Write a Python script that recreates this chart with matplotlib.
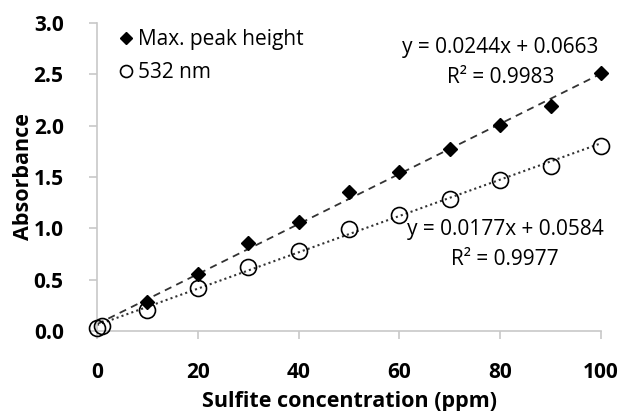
import numpy as np
import matplotlib.pyplot as plt

conc = [0, 1, 10, 20, 30, 40, 50, 60, 70, 80, 90, 100]
abs_532 = [0.03, 0.05, 0.20, 0.42, 0.62, 0.78, 0.99, 1.13, 1.29, 1.47, 1.61, 1.80]
# diamonds at 0 and 1 ppm are not visible in the original
conc_peak = [10, 20, 30, 40, 50, 60, 70, 80, 90, 100]
peak_height = [0.28, 0.56, 0.86, 1.06, 1.35, 1.55, 1.77, 2.01, 2.19, 2.51]

fit_peak = (0.0244, 0.0663, 0.9983)
fit_532 = (0.0177, 0.0584, 0.9977)

plt.rcParams['font.family'] = ['Open Sans', 'DejaVu Sans']

fig = plt.figure(figsize=(6.21, 4.11), dpi=100)
ax = fig.add_axes([97/621, 80/411, 504/621, 308/411])

xs = np.array([0, 100])
ax.plot(xs, fit_peak[0]*xs + fit_peak[1], color='#333333', ls=(0, (4, 3)), lw=1.3, zorder=2)
ax.plot(xs, fit_532[0]*xs + fit_532[1], color='#333333', ls=(0, (1, 1.5)), lw=1.5, zorder=2)

ax.plot(conc_peak, peak_height, ls='none', marker='D', ms=7.5, color='black',
        label='Max. peak height', zorder=3, clip_on=False)
ax.plot(conc, abs_532, ls='none', marker='o', ms=11.5, mfc='none', mec='black',
        mew=1.2, label='532 nm', zorder=4, clip_on=False)

ax.set_xlim(0, 100)
ax.set_ylim(0, 3.0)
ax.set_xticks(np.arange(0, 101, 20))
ax.set_yticks(np.arange(0, 3.01, 0.5))
ax.set_yticklabels([f'{v:.1f}' for v in np.arange(0, 3.01, 0.5)])

for s in ['top', 'right']:
    ax.spines[s].set_visible(False)
for s in ['left', 'bottom']:
    ax.spines[s].set_color('#c8c8c8')
    ax.spines[s].set_linewidth(1.2)
ax.tick_params(axis='both', colors='#c8c8c8', length=6, width=1.2,
               labelcolor='black', labelsize=15)
ax.tick_params(axis='x', pad=16)
ax.tick_params(axis='y', pad=18)
for lab in ax.get_xticklabels() + ax.get_yticklabels():
    lab.set_fontweight('bold')

ax.set_xlabel('Sulfite concentration (ppm)', fontsize=15.5, fontweight='bold', labelpad=6)
ax.set_ylabel('Absorbance', fontsize=15.5, fontweight='bold', labelpad=0)

fs = 15
ax.text(80, 2.76, f'y = {fit_peak[0]:.4f}x + {fit_peak[1]:.4f}', fontsize=fs, ha='center', va='center')
ax.text(80, 2.47, f'R² = {fit_peak[2]:.4f}', fontsize=fs, ha='center', va='center')
ax.text(81, 0.99, f'y = {fit_532[0]:.4f}x + {fit_532[1]:.4f}', fontsize=fs, ha='center', va='center')
ax.text(81, 0.70, f'R² = {fit_532[2]:.4f}', fontsize=fs, ha='center', va='center')

leg = ax.legend(loc='upper left', bbox_to_anchor=(0.0, 1.04), frameon=False,
                fontsize=15, handletextpad=0.05, handlelength=1.0,
                labelspacing=0.55, markerscale=0.75)

fig.savefig('out.png', dpi=100)
